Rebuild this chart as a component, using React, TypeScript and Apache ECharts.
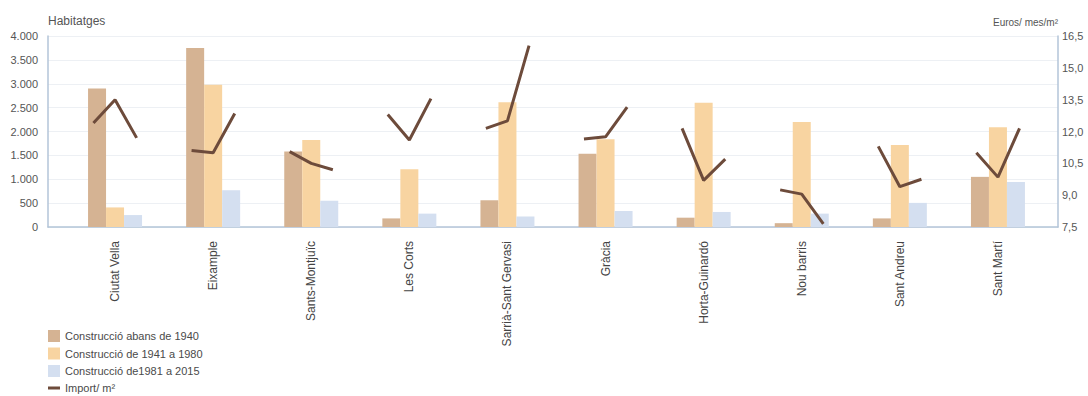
import React, { useEffect, useRef } from "react";
import * as echarts from "echarts";

// Districts of Barcelona
const districts = [
  "Ciutat Vella",
  "Eixample",
  "Sants-Montjuïc",
  "Les Corts",
  "Sarrià-Sant Gervasi",
  "Gràcia",
  "Horta-Guinardó",
  "Nou barris",
  "Sant Andreu",
  "Sant Martí",
];

// Dwellings by construction period
const before1940 = [2900, 3750, 1580, 180, 560, 1535, 195, 80, 180, 1050];
const from1941to1980 = [410, 2980, 1820, 1210, 2610, 1840, 2600, 2200, 1715, 2090];
const from1981to2015 = [250, 770, 550, 280, 220, 335, 315, 280, 505, 940];

// Rent in euros / month / m² for each construction period
const priceBefore1940 = [12.4, 11.1, 11.05, 12.8, 12.15, 11.65, 12.15, 9.25, 11.3, 11.0];
const price1941to1980 = [13.5, 11.0, 10.5, 11.6, 12.5, 11.75, 9.7, 9.05, 9.4, 9.85];
const price1981to2015 = [11.7, 12.85, 10.2, 13.55, 16.05, 13.15, 10.7, 7.65, 9.75, 12.15];

const leftTicks = { min: 0, max: 4000, interval: 500 };
const rightTicks = { min: 7.5, max: 16.5, interval: 1.5 };

const seriesNames = [
  "Construcció abans de 1940",
  "Construcció de 1941 a 1980",
  "Construcció de1981 a 2015",
  "Import/ m²",
];

const colors = ["#d5b393", "#f8d4a1", "#d4dff0", "#6d4b3b"];
const axisColor = "#b3c5d8";
const font = "'Liberation Sans', Arial, sans-serif";

const fmtThousands = (v: number) =>
  v >= 1000 ? `${Math.floor(v / 1000)}.${String(v % 1000).padStart(3, "0")}` : String(v);
const fmtDecimal = (v: number) => v.toFixed(1).replace(".", ",");

// Price points sit over each bar of a district, with a break between districts
const SPREAD = 0.22;
const linePoints: (number | string)[][] = [];
districts.forEach((_, i) => {
  linePoints.push([i - SPREAD, priceBefore1940[i]]);
  linePoints.push([i, price1941to1980[i]]);
  linePoints.push([i + SPREAD, price1981to2015[i]]);
  linePoints.push([i + 0.5, "-"]);
});

export default function App() {
  const ref = useRef<HTMLDivElement>(null);

  useEffect(() => {
    if (!ref.current) return;
    const chart = echarts.init(ref.current, undefined, { renderer: "svg" });
    chart.setOption({
      animation: false,
      backgroundColor: "#ffffff",
      textStyle: { fontFamily: font },
      grid: [
        { left: 66, right: 41, top: 36, bottom: 169 },
        { left: 48, right: 30, top: 36, bottom: 169 },
      ],
      legend: {
        orient: "vertical",
        left: 48,
        top: 330,
        padding: 0,
        itemWidth: 12,
        itemHeight: 12,
        itemGap: 5.5,
        textStyle: { fontSize: 11, color: "#4a4a4a", fontFamily: font },
        data: [
          { name: seriesNames[0], icon: "rect" },
          { name: seriesNames[1], icon: "rect" },
          { name: seriesNames[2], icon: "rect" },
          { name: seriesNames[3], icon: "path://M0 0 H12 V3 H0 Z" },
        ],
      },
      xAxis: [
        {
          type: "category",
          gridIndex: 0,
          data: districts,
          axisLine: { show: false },
          axisTick: { show: false },
          axisLabel: {
            rotate: 90,
            margin: 14,
            fontSize: 12,
            color: "#444",
            padding: [0, 0, 10, 0],
          },
        },
        {
          type: "value",
          gridIndex: 0,
          min: -0.5,
          max: 9.5,
          show: false,
        },
        {
          type: "value",
          gridIndex: 1,
          min: 0,
          max: 1,
          axisLine: { show: true, lineStyle: { color: axisColor, width: 1.5 } },
          axisTick: { show: false },
          axisLabel: { show: false },
          splitLine: { show: false },
        },
      ],
      yAxis: [
        { type: "value", gridIndex: 0, ...leftTicks, show: false },
        { type: "value", gridIndex: 0, ...rightTicks, show: false },
        {
          type: "value",
          gridIndex: 1,
          position: "left",
          ...leftTicks,
          name: "Habitatges",
          nameLocation: "end",
          nameGap: 9,
          nameTextStyle: { align: "left", fontSize: 12, color: "#555" },
          axisLine: { show: true, lineStyle: { color: axisColor, width: 1.5 } },
          axisTick: { show: false },
          axisLabel: { fontSize: 11, color: "#555", margin: 10, formatter: fmtThousands },
          splitLine: { show: true, lineStyle: { color: "#edf0f4", width: 1 } },
        },
        {
          type: "value",
          gridIndex: 1,
          position: "right",
          ...rightTicks,
          name: "Euros/ mes/m²",
          nameLocation: "end",
          nameGap: 9,
          nameTextStyle: { align: "right", fontSize: 10, color: "#555" },
          axisLine: { show: true, lineStyle: { color: axisColor, width: 1.5 } },
          axisTick: { show: false },
          axisLabel: { fontSize: 11, color: "#555", margin: 4, formatter: fmtDecimal },
          splitLine: { show: false },
        },
      ],
      series: [
        {
          name: seriesNames[0],
          type: "bar",
          xAxisIndex: 0,
          yAxisIndex: 0,
          barWidth: 18,
          barGap: "0%",
          itemStyle: { color: colors[0] },
          data: before1940,
        },
        {
          name: seriesNames[1],
          type: "bar",
          xAxisIndex: 0,
          yAxisIndex: 0,
          barWidth: 18,
          barGap: "0%",
          itemStyle: { color: colors[1] },
          data: from1941to1980,
        },
        {
          name: seriesNames[2],
          type: "bar",
          xAxisIndex: 0,
          yAxisIndex: 0,
          barWidth: 18,
          barGap: "0%",
          itemStyle: { color: colors[2] },
          data: from1981to2015,
        },
        {
          name: seriesNames[3],
          type: "line",
          xAxisIndex: 1,
          yAxisIndex: 1,
          symbol: "none",
          connectNulls: false,
          lineStyle: { color: colors[3], width: 3 },
          itemStyle: { color: colors[3] },
          data: linePoints,
        },
      ],
    });
    return () => chart.dispose();
  }, []);

  return (
    <div
      ref={ref}
      style={{ position: "fixed", left: 0, top: 0, width: 1088, height: 396 }}
    />
  );
}
